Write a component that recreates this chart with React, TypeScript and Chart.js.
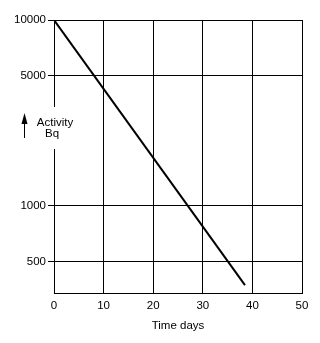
import React, { useEffect, useRef } from "react";
import { Chart, registerables } from "chart.js";

Chart.register(...registerables);

const days = [0, 38.5];
const activity = [10000, 375];
const yTickValues = [500, 1000, 5000, 10000];
const xTickStep = 10;
const xTitle = "Time days";
const yLabelLines = ["Activity", "Bq"];

const FONT = "'Liberation Sans', Arial, sans-serif";

const yLabelPlugin = {
  id: "yLabel",
  afterDraw(chart: any) {
    const ctx = chart.ctx;
    const left = chart.chartArea.left;
    ctx.save();
    // gap in the axis line where the label sits
    ctx.fillStyle = "#fff";
    ctx.fillRect(left - 2, 107, 4, 42);
    ctx.fillStyle = "#000";
    ctx.font = `11.5px ${FONT}`;
    ctx.textAlign = "center";
    ctx.textBaseline = "alphabetic";
    ctx.fillText(yLabelLines[0], 55, 126);
    ctx.fillText(yLabelLines[1], 52, 137);
    // arrow
    ctx.strokeStyle = "#000";
    ctx.lineWidth = 1;
    ctx.beginPath();
    ctx.moveTo(24.5, 122);
    ctx.lineTo(24.5, 138);
    ctx.stroke();
    ctx.beginPath();
    ctx.moveTo(24.5, 113);
    ctx.lineTo(27.5, 124);
    ctx.lineTo(21.5, 124);
    ctx.closePath();
    ctx.fill();
    ctx.restore();
  },
};

export default function App() {
  const ref = useRef<HTMLCanvasElement>(null);
  useEffect(() => {
    document.body.style.margin = "0";
    const canvas = ref.current!;
    const chart = new Chart(canvas, {
      type: "line",
      data: {
        datasets: [
          {
            data: days.map((d, i) => ({ x: d, y: activity[i] })),
            borderColor: "#000",
            borderWidth: 2,
            pointRadius: 0,
            fill: false,
            tension: 0,
          },
        ],
      },
      options: {
        responsive: false,
        animation: false,
        layout: { padding: { top: 20, right: 18, left: 0, bottom: 0 } },
        plugins: { legend: { display: false }, tooltip: { enabled: false } },
        scales: {
          x: {
            type: "linear",
            min: 0,
            max: 50,
            ticks: {
              stepSize: xTickStep,
              color: "#000",
              font: { family: FONT, size: 11.5 },
              padding: 6,
              maxRotation: 0,
            },
            grid: { color: "#000", lineWidth: 1, drawTicks: false },
            border: { display: true, color: "#000", width: 1 },
            title: {
              display: true,
              text: xTitle,
              color: "#000",
              font: { family: FONT, size: 11.5 },
              padding: { top: 0, bottom: 10 },
            },
            afterFit(scale: any) {
              scale.height = 50;
            },
          },
          y: {
            type: "logarithmic",
            min: 340,
            max: 10000,
            afterBuildTicks(scale: any) {
              scale.ticks = yTickValues.map((v) => ({ value: v }));
            },
            ticks: {
              color: "#000",
              font: { family: FONT, size: 11.5 },
              padding: 2,
              callback: (v: any) => String(v),
              autoSkip: false,
            },
            grid: { color: "#000", lineWidth: 1, tickLength: 6 },
            border: { display: true, color: "#000", width: 1 },
            afterFit(scale: any) {
              scale.width = 54;
            },
          },
        },
      } as any,
      plugins: [yLabelPlugin],
    });
    return () => chart.destroy();
  }, []);
  return <canvas ref={ref} width={320} height={343} style={{ display: "block" }} />;
}
